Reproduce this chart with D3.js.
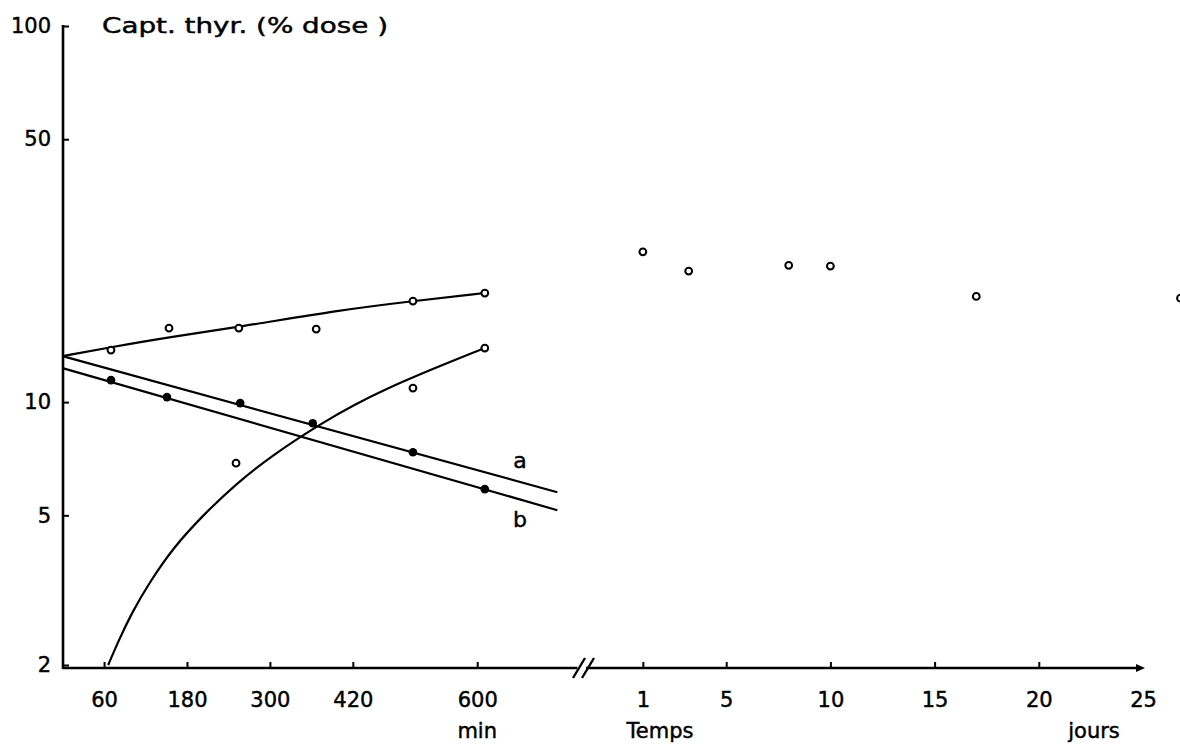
<!DOCTYPE html>
<html>
<head>
<meta charset="utf-8">
<script src="https://cdn.jsdelivr.net/npm/d3@7"></script>
<style>
  html, body { margin: 0; padding: 0; background: #fff; }
  svg { display: block; }
  text { font-family: "DejaVu Sans", "Noto Sans", sans-serif; fill: #000; stroke: #000; stroke-width: 0.45px; }
</style>
</head>
<body>
<svg id="chart" width="1180" height="746"></svg>
<script>
// Thyroid uptake (% of dose), log scale, vs time in minutes then days
const yTicks = [2, 5, 10, 50, 100];
const minuteTicks = [60, 180, 300, 420, 600];
const dayTicks = [1, 5, 10, 15, 20, 25];

// upper curve: measured points and drawn trend
const upperTimes = [70, 154, 255, 367, 507, 611];
const upperValues = [13.75, 15.73, 15.73, 15.64, 18.56, 19.5];
const upperCurveTimes = [0, 70, 154, 255, 401, 507, 611];
const upperCurveValues = [13.25, 14.0, 14.89, 15.83, 17.57, 18.56, 19.5];

// rising curve starting from the bottom of the scale
const risingTimes = [251, 507, 611];
const risingValues = [6.88, 10.9, 13.92];
const risingCurveTimes = [66, 80, 100, 125, 160, 203, 252, 304, 372, 459, 611];
const risingCurveValues = [2.0, 2.3, 2.75, 3.3, 4.1, 5.0, 6.09, 7.23, 8.74, 10.76, 13.92];

// straight line a (filled points)
const aTimes = [257, 362, 507];
const aValues = [9.94, 8.79, 7.36];
const aLineTimes = [0, 716];
const aLineValues = [13.25, 5.76];

// straight line b (filled points)
const bTimes = [70, 151, 611];
const bValues = [11.44, 10.31, 5.87];
const bLineTimes = [0, 716];
const bLineValues = [12.31, 5.16];

// later measurements, in days
const dayTimes = [1, 3.2, 8, 10, 17, 26.8];
const dayValues = [25.1, 22.3, 23.1, 23.0, 19.1, 18.9];

const svg = d3.select("#chart");
const axisX = 63;
const axisY = 668;

const y = d3.scaleLog().domain([2, 100]).range([665, 26]);
const xMin = d3.scaleLinear().domain([0, 745]).range([62.6, 577.4]);
const xDay = d3.scaleLinear().domain([0, 25]).range([622, 1143]);

const zip = (a, b) => a.map((v, i) => [v, b[i]]);
const lineMin = d3.line().x(d => xMin(d[0])).y(d => y(d[1]));

// y axis
const yAxis = d3.axisLeft(y).tickValues(yTicks).tickFormat(d3.format("d"))
  .tickSize(-6).tickSizeOuter(0).tickPadding(12);
const gy = svg.append("g").attr("transform", `translate(${axisX},0)`).call(yAxis);
gy.select(".domain").remove();
gy.selectAll(".tick line").attr("stroke", "#000").attr("stroke-width", 2);
gy.selectAll(".tick text").attr("font-size", 21).attr("font-family", null);
svg.append("line").attr("x1", axisX).attr("x2", axisX)
  .attr("y1", y(100) - 1).attr("y2", axisY + 1)
  .attr("stroke", "#000").attr("stroke-width", 2.6);

// minutes axis
const xAxisMin = d3.axisBottom(xMin).tickValues(minuteTicks)
  .tickSize(-6).tickSizeOuter(0).tickPadding(24);
const gxm = svg.append("g").attr("transform", `translate(0,${axisY})`).call(xAxisMin);
gxm.select(".domain").remove();
gxm.selectAll(".tick line").attr("stroke", "#000").attr("stroke-width", 2);
gxm.selectAll(".tick text").attr("font-size", 21).attr("font-family", null);
svg.append("line").attr("x1", axisX).attr("x2", xMin(745))
  .attr("y1", axisY).attr("y2", axisY).attr("stroke", "#000").attr("stroke-width", 2.6);

// days axis
const xAxisDay = d3.axisBottom(xDay).tickValues(dayTicks)
  .tickSize(-6).tickSizeOuter(0).tickPadding(24);
const gxd = svg.append("g").attr("transform", `translate(0,${axisY})`).call(xAxisDay);
gxd.select(".domain").remove();
gxd.selectAll(".tick line").attr("stroke", "#000").attr("stroke-width", 2)
  .filter(d => d === 25).remove();
gxd.selectAll(".tick text").attr("font-size", 21).attr("font-family", null);
svg.append("line").attr("x1", 586).attr("x2", xDay(25) - 2)
  .attr("y1", axisY).attr("y2", axisY).attr("stroke", "#000").attr("stroke-width", 2.6);
svg.append("path")
  .attr("d", `M${xDay(25) + 2},${axisY} l-9,-4 l0,8 z`)
  .attr("fill", "#000");

// axis break
[579, 588].forEach(cx => {
  svg.append("line").attr("x1", cx - 6).attr("y1", axisY + 10)
    .attr("x2", cx + 6).attr("y2", axisY - 10)
    .attr("stroke", "#000").attr("stroke-width", 2.4);
});

// axis titles
svg.append("text").attr("x", 102).attr("y", 26).attr("dy", "0.35em")
  .attr("font-size", 21).attr("textLength", 286).attr("lengthAdjust", "spacingAndGlyphs")
  .text("Capt. thyr. (% dose )");
svg.append("text").attr("x", xMin(600)).attr("y", 731).attr("dy", "0.35em")
  .attr("text-anchor", "middle").attr("font-size", 21).text("min");
svg.append("text").attr("x", 660).attr("y", 731).attr("dy", "0.35em")
  .attr("text-anchor", "middle").attr("font-size", 21).text("Temps");
svg.append("text").attr("x", 1094).attr("y", 731).attr("dy", "0.35em")
  .attr("text-anchor", "middle").attr("font-size", 21).text("jours");

// curves and lines
const curves = svg.append("g").attr("fill", "none").attr("stroke", "#000").attr("stroke-width", 2.2);
curves.append("path").attr("d", lineMin.curve(d3.curveBasis)(zip(upperCurveTimes, upperCurveValues)));
curves.append("path").attr("d", lineMin.curve(d3.curveBasis)(zip(risingCurveTimes, risingCurveValues)));
curves.append("path").attr("d", lineMin.curve(d3.curveLinear)(zip(aLineTimes, aLineValues)));
curves.append("path").attr("d", lineMin.curve(d3.curveLinear)(zip(bLineTimes, bLineValues)));

// line labels
svg.append("text").attr("x", xMin(662)).attr("y", y(6.68))
  .attr("text-anchor", "middle").attr("font-size", 22).text("a");
svg.append("text").attr("x", xMin(662)).attr("y", y(4.65))
  .attr("text-anchor", "middle").attr("font-size", 22).text("b");

// points
const openPts = zip(upperTimes, upperValues).concat(zip(risingTimes, risingValues));
svg.append("g").selectAll("circle").data(openPts).join("circle")
  .attr("cx", d => xMin(d[0])).attr("cy", d => y(d[1])).attr("r", 3.4)
  .attr("fill", "#fff").attr("stroke", "#000").attr("stroke-width", 2);

const filledPts = zip(aTimes, aValues).concat(zip(bTimes, bValues));
svg.append("g").selectAll("circle").data(filledPts).join("circle")
  .attr("cx", d => xMin(d[0])).attr("cy", d => y(d[1])).attr("r", 4.3)
  .attr("fill", "#000");

svg.append("g").selectAll("circle").data(zip(dayTimes, dayValues)).join("circle")
  .attr("cx", d => xDay(d[0])).attr("cy", d => y(d[1])).attr("r", 3.4)
  .attr("fill", "#fff").attr("stroke", "#000").attr("stroke-width", 2);
</script>
</body>
</html>
